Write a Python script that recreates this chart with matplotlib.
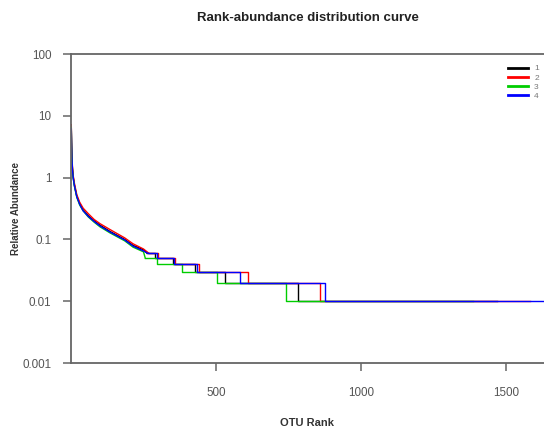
import matplotlib
matplotlib.use("Agg")
import matplotlib.pyplot as plt
import numpy as np

plt.rcParams['font.family'] = ['Liberation Sans', 'DejaVu Sans']

samples = ["1", "2", "3", "4"]
colors = ["black", "red", "#00cd00", "blue"]

# head of each curve: abundant OTUs (relative abundance, %)
head_rank = [1, 2, 3, 5, 8, 12, 20, 30, 42, 60, 80, 100, 134, 185, 214, 250]
head_abund = [
    [6.8, 3.6, 2.3, 1.4, 1.0, 0.75, 0.50, 0.38, 0.30, 0.24, 0.20, 0.17, 0.135, 0.100, 0.080, 0.068],
    [7.2, 3.8, 2.4, 1.5, 1.05, 0.80, 0.53, 0.40, 0.32, 0.26, 0.21, 0.18, 0.145, 0.106, 0.085, 0.070],
    [6.5, 3.4, 2.2, 1.35, 0.95, 0.72, 0.48, 0.36, 0.29, 0.23, 0.19, 0.16, 0.128, 0.095, 0.075, 0.063],
    [6.2, 3.3, 2.1, 1.35, 0.97, 0.73, 0.49, 0.37, 0.29, 0.235, 0.195, 0.165, 0.132, 0.098, 0.078, 0.065],
]

# tail of each curve: rank where each abundance level starts, last rank = end of curve
tail_rank = [
    [262, 290, 352, 428, 531, 783, 1469],
    [268, 300, 360, 440, 610, 860, 1583],
    [256, 296, 383, 503, 741, 1386],
    [264, 295, 355, 435, 583, 876, 1660],
]
tail_abund = [
    [0.06, 0.05, 0.04, 0.03, 0.02, 0.01, 0.01],
    [0.06, 0.05, 0.04, 0.03, 0.02, 0.01, 0.01],
    [0.05, 0.04, 0.03, 0.02, 0.01, 0.01],
    [0.06, 0.05, 0.04, 0.03, 0.02, 0.01, 0.01],
]

fig = plt.figure(figsize=(5.44, 4.36), dpi=100)
ax = fig.add_axes([0.1305, 0.1674, 0.8695, 0.7086])

for i in range(4):
    r = head_rank + [tail_rank[i][0]]
    a = head_abund[i] + [tail_abund[i][0]]
    ax.plot(r, a, color=colors[i], lw=1.0)
    ax.step(tail_rank[i], tail_abund[i], where="post", color=colors[i], lw=1.0,
            label=samples[i])

ax.set_yscale("log")
ax.set_ylim(0.001, 100)
ax.set_xlim(0, 1631)
ax.set_yticks([0.001, 0.01, 0.1, 1, 10, 100])
ax.set_yticklabels(["0.001", "0.01", "0.1", "1", "10", "100"])
ax.minorticks_off()
ax.set_xticks([500, 1000, 1500])

axis_col = "#666666"
for s in ["left", "top", "bottom"]:
    ax.spines[s].set_color(axis_col)
    ax.spines[s].set_linewidth(1.3)
ax.spines["right"].set_visible(False)
ax.tick_params(axis="both", colors=axis_col, labelcolor="#555555", labelsize=8.4,
               length=6, width=1.1)
ax.tick_params(axis="x", pad=11)
ax.tick_params(axis="y", pad=8)

ax.set_title("Rank-abundance distribution curve", fontsize=9.5, fontweight="bold",
             color="#222222", pad=24)
ax.set_xlabel("OTU Rank", fontsize=8, fontweight="bold", color="#333333", labelpad=14)
ax.yaxis.set_label_coords(-0.105, 0.52)
ax.set_ylabel("Relative Abundance", fontsize=7, fontweight="bold", color="#333333")

leg = ax.legend(loc="upper right", bbox_to_anchor=(1.005, 0.99), frameon=False,
                fontsize=6, handlelength=2.4, labelspacing=0.15, handletextpad=0.7,
                labelcolor="#777777")
for h in leg.get_lines():
    h.set_linewidth(2.0)

fig.savefig("out.png", dpi=100)
